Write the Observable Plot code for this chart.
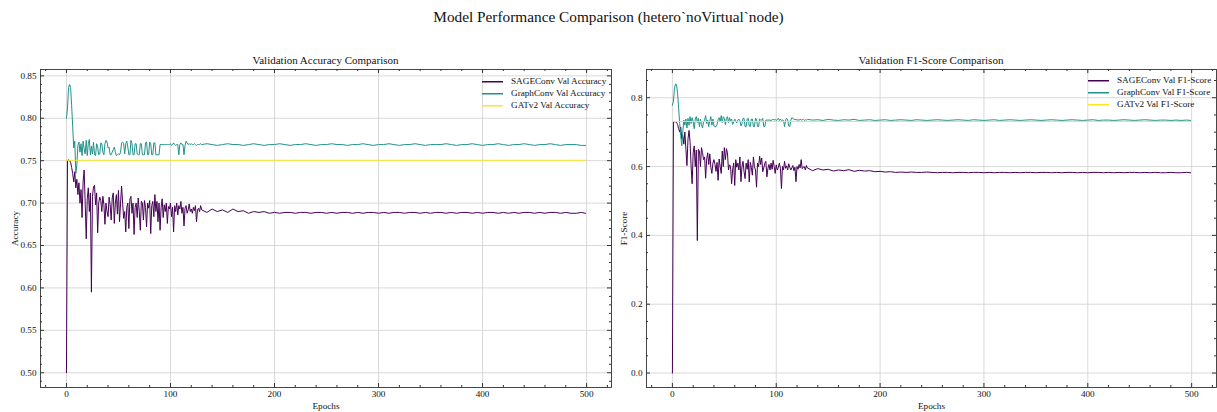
<!DOCTYPE html>
<html>
<head>
<meta charset="utf-8">
<script src="https://cdn.jsdelivr.net/npm/d3@7"></script>
<script src="https://cdn.jsdelivr.net/npm/@observablehq/plot@0.6"></script>
<style>
  html, body { margin: 0; padding: 0; background: #fff; }
  #wrap { position: relative; width: 1217px; height: 412px; overflow: hidden; font-family: "Liberation Serif", "Times New Roman", Times, serif; color: #111; }
  .abs { position: absolute; white-space: nowrap; }
  .title { font-size: 15.3px; left: 0; width: 1217px; text-align: center; top: 8px; }
  .sub { font-size: 11px; text-align: center; top: 54px; }
  .leg { font-size: 9.2px; line-height: 12px; }
  .leg .row { display: flex; align-items: flex-start; height: 12px; }
  .leg .sw { display: block; width: 21px; height: 1px; margin-top: 6px; margin-right: 8px; box-shadow: 0 0.5px 0 0 currentColor; }
  svg { position: absolute; overflow: visible; }
</style>
</head>
<body>
<div id="wrap"></div>
<script>
// ---------------- DATA ----------------
const seriesNames = ["SAGEConv", "GraphConv", "GATv2"];
const seriesColors = ["#440154", "#21918c", "#fde725"];

// epochs 0..129 (every epoch), then 130..495 every 5, then 499
const epochsEarly = d3.range(0, 130);
const epochsLate = [...d3.range(130, 500, 5), 499];

// Validation accuracy
const sageAccEarly = [
  0.500,0.750,0.751,0.750,0.748,0.742,0.735,0.725,0.737,0.718,
  0.728,0.710,0.724,0.700,0.716,0.683,0.725,0.739,0.700,0.658,
  0.705,0.718,0.690,0.712,0.595,0.708,0.719,0.721,0.698,0.712,
  0.665,0.700,0.707,0.703,0.690,0.708,0.698,0.675,0.700,0.690,
  0.684,0.707,0.698,0.680,0.706,0.712,0.676,0.700,0.710,0.687,
  0.715,0.678,0.700,0.720,0.700,0.682,0.690,0.666,0.695,0.700,
  0.670,0.705,0.708,0.688,0.700,0.663,0.695,0.700,0.683,0.706,
  0.690,0.668,0.702,0.700,0.680,0.703,0.695,0.672,0.700,0.694,
  0.703,0.664,0.697,0.702,0.684,0.710,0.690,0.702,0.678,0.700,
  0.668,0.695,0.705,0.683,0.698,0.690,0.700,0.676,0.696,0.693,
  0.700,0.684,0.695,0.666,0.697,0.690,0.700,0.686,0.697,0.693,
  0.702,0.688,0.695,0.673,0.694,0.697,0.688,0.692,0.699,0.690,
  0.693,0.688,0.695,0.691,0.697,0.678,0.692,0.694,0.690,0.697
];
const sageAccLate = [
  0.692,0.689,0.693,0.690,0.692,0.689,0.693,0.690,0.691,0.688,0.690,0.689,0.690,0.688,0.689,
  0.688,0.689,0.689,0.688,0.689,0.689,0.688,0.689,0.689,0.688,0.689,0.688,0.689,0.689,0.688,
  0.689,0.688,0.689,0.689,0.688,0.689,0.688,0.689,0.689,0.688,0.689,0.689,0.688,0.689,0.688,
  0.689,0.689,0.688,0.689,0.688,0.689,0.689,0.688,0.689,0.688,0.689,0.689,0.688,0.689,0.688,
  0.689,0.688,0.689,0.689,0.688,0.689,0.688,0.689,0.689,0.688,0.689,0.688,0.688,0.689,0.688
];
const graphAccEarly = [
  0.800,0.812,0.836,0.840,0.836,0.815,0.790,0.765,0.773,0.735,
  0.745,0.768,0.772,0.760,0.770,0.756,0.773,0.764,0.758,0.774,
  0.756,0.770,0.775,0.757,0.767,0.758,0.772,0.757,0.756,0.770,
  0.766,0.757,0.758,0.771,0.770,0.760,0.757,0.770,0.774,0.772,
  0.765,0.766,0.757,0.757,0.760,0.763,0.766,0.760,0.756,0.757,
  0.758,0.757,0.760,0.771,0.772,0.770,0.758,0.770,0.773,0.766,
  0.757,0.757,0.774,0.770,0.757,0.757,0.770,0.770,0.758,0.757,
  0.757,0.770,0.770,0.757,0.757,0.757,0.771,0.772,0.757,0.757,
  0.772,0.770,0.757,0.757,0.771,0.771,0.757,0.757,0.757,0.757,
  0.769,0.769,0.769,0.769,0.769,0.769,0.769,0.769,0.769,0.769,
  0.770,0.768,0.769,0.771,0.769,0.768,0.769,0.769,0.757,0.769,
  0.771,0.769,0.769,0.757,0.768,0.773,0.771,0.769,0.770,0.769,
  0.770,0.769,0.769,0.770,0.769,0.768,0.769,0.769,0.769,0.770
];
const graphAccLate = [
  0.769,0.770,0.769,0.768,0.769,0.770,0.769,0.769,0.768,0.769,0.770,0.769,0.768,0.769,0.769,
  0.770,0.769,0.768,0.769,0.769,0.770,0.769,0.768,0.769,0.769,0.770,0.769,0.769,0.768,0.769,
  0.769,0.770,0.769,0.768,0.769,0.769,0.770,0.769,0.768,0.769,0.769,0.770,0.769,0.768,0.769,
  0.769,0.769,0.770,0.769,0.768,0.769,0.769,0.770,0.769,0.768,0.769,0.769,0.770,0.769,0.768,
  0.769,0.769,0.770,0.769,0.768,0.769,0.769,0.770,0.769,0.768,0.769,0.769,0.769,0.768,0.768
];
const gatAccEpochs = [0, 499];
const gatAcc = [0.7505, 0.7505];

// Validation F1-score
const sageF1Early = [
  0.000,0.730,0.730,0.730,0.728,0.722,0.710,0.700,0.715,0.680,
  0.690,0.665,0.700,0.650,0.603,0.680,0.705,0.672,0.600,0.550,
  0.640,0.660,0.600,0.648,0.385,0.650,0.645,0.600,0.655,0.640,
  0.620,0.628,0.566,0.622,0.640,0.606,0.637,0.598,0.580,0.610,
  0.620,0.606,0.586,0.612,0.560,0.622,0.600,0.580,0.645,0.600,
  0.655,0.620,0.652,0.640,0.590,0.605,0.600,0.550,0.590,0.610,
  0.545,0.620,0.598,0.610,0.590,0.628,0.556,0.600,0.615,0.585,
  0.565,0.610,0.592,0.620,0.555,0.612,0.598,0.575,0.628,0.600,
  0.590,0.540,0.610,0.600,0.630,0.606,0.625,0.585,0.596,0.610,
  0.615,0.570,0.595,0.606,0.590,0.610,0.592,0.618,0.600,0.580,
  0.605,0.590,0.598,0.610,0.595,0.536,0.600,0.590,0.615,0.595,
  0.602,0.590,0.608,0.598,0.590,0.596,0.603,0.588,0.598,0.556,
  0.600,0.592,0.606,0.596,0.620,0.594,0.598,0.600,0.590,0.603
];
const sageF1Late = [
  0.596,0.588,0.594,0.590,0.592,0.587,0.590,0.588,0.591,0.586,0.589,0.587,0.588,0.585,0.586,
  0.584,0.585,0.583,0.584,0.583,0.584,0.583,0.583,0.584,0.583,0.582,0.583,0.583,0.582,0.583,
  0.583,0.582,0.583,0.583,0.582,0.583,0.582,0.583,0.583,0.582,0.583,0.582,0.583,0.583,0.582,
  0.583,0.583,0.582,0.583,0.582,0.583,0.583,0.582,0.583,0.582,0.583,0.583,0.582,0.583,0.582,
  0.583,0.582,0.583,0.583,0.582,0.583,0.582,0.583,0.582,0.582,0.583,0.582,0.582,0.583,0.582
];
const graphF1Early = [
  0.778,0.790,0.828,0.840,0.838,0.812,0.770,0.725,0.690,0.660,
  0.700,0.735,0.720,0.738,0.712,0.740,0.720,0.745,0.725,0.742,
  0.730,0.710,0.738,0.745,0.728,0.740,0.716,0.738,0.722,0.712,
  0.730,0.735,0.748,0.725,0.735,0.716,0.733,0.745,0.720,0.738,
  0.718,0.716,0.716,0.722,0.737,0.742,0.730,0.748,0.728,0.745,
  0.740,0.722,0.740,0.745,0.728,0.742,0.733,0.738,0.722,0.730,
  0.738,0.733,0.727,0.735,0.738,0.733,0.718,0.725,0.740,0.740,
  0.716,0.716,0.738,0.740,0.718,0.716,0.738,0.738,0.716,0.716,
  0.740,0.738,0.716,0.716,0.738,0.735,0.735,0.740,0.716,0.716,
  0.735,0.735,0.735,0.735,0.735,0.734,0.735,0.738,0.735,0.737,
  0.734,0.736,0.740,0.734,0.738,0.734,0.735,0.734,0.716,0.735,
  0.740,0.736,0.718,0.716,0.735,0.742,0.740,0.738,0.736,0.737,
  0.735,0.736,0.734,0.738,0.735,0.736,0.737,0.734,0.736,0.735
];
const graphF1Late = [
  0.737,0.735,0.736,0.734,0.737,0.735,0.734,0.736,0.735,0.737,0.734,0.735,0.736,0.734,0.735,
  0.736,0.734,0.735,0.736,0.735,0.734,0.736,0.735,0.734,0.735,0.736,0.735,0.734,0.735,0.736,
  0.735,0.734,0.736,0.735,0.734,0.735,0.736,0.734,0.735,0.736,0.735,0.734,0.735,0.736,0.735,
  0.734,0.735,0.736,0.735,0.734,0.735,0.736,0.735,0.734,0.735,0.736,0.734,0.735,0.735,0.734,
  0.735,0.736,0.735,0.734,0.735,0.736,0.735,0.734,0.735,0.735,0.734,0.735,0.734,0.735,0.734
];
const gatF1Epochs = [0, 499];
const gatF1 = [0.731, 0.731];

// Tick labels
const xTicks = [0, 100, 200, 300, 400, 500];
const accTicks = [0.50, 0.55, 0.60, 0.65, 0.70, 0.75, 0.80, 0.85];
const f1Ticks = [0.0, 0.2, 0.4, 0.6, 0.8];

// ---------------- BUILD ----------------
function rows(epochs, values, series) {
  return values.map((v, i) => ({epoch: epochs[i], value: v, series}));
}
const epochsAll = [...epochsEarly, ...epochsLate];
const accData = [
  ...rows(epochsAll, [...sageAccEarly, ...sageAccLate], "SAGEConv"),
  ...rows(epochsAll, [...graphAccEarly, ...graphAccLate], "GraphConv"),
  ...rows(gatAccEpochs, gatAcc, "GATv2")
];
const f1Data = [
  ...rows(epochsAll, [...sageF1Early, ...sageF1Late], "SAGEConv"),
  ...rows(epochsAll, [...graphF1Early, ...graphF1Late], "GraphConv"),
  ...rows(gatF1Epochs, gatF1, "GATv2")
];

const wrap = document.getElementById("wrap");
const FONT = "'Liberation Serif', 'Times New Roman', Times, serif";

function panel({data, yDomain, yTicks, yMinor, fmt, yLabel, left, mL, labelOffset}) {
  const W = 612, H = 372, mR = 1, mT = 29, mB = 25;
  const innerW = W - mL - mR, innerH = H - mT - mB;
  const xMinor = d3.range(-20, 521, 20).filter(v => v % 100 !== 0);
  const axisColor = "#333";
  const chart = Plot.plot({
    width: W, height: H,
    marginLeft: mL, marginRight: mR, marginTop: mT, marginBottom: mB,
    style: {fontFamily: FONT, fontSize: "9.2px", background: "transparent", color: "#111"},
    x: {domain: [-24.95, 523.95]},
    y: {domain: yDomain},
    color: {domain: seriesNames, range: seriesColors},
    marks: [
      Plot.gridX(xTicks, {stroke: "#cfcfcf", strokeOpacity: 1, strokeWidth: 0.8}),
      Plot.gridY(yTicks, {stroke: "#cfcfcf", strokeOpacity: 1, strokeWidth: 0.8}),
      Plot.line(data, {x: "epoch", y: "value", z: "series", stroke: "series", strokeWidth: 1}),
      // inward ticks (major)
      Plot.tickX(xTicks, {x: d => d, stroke: axisColor, insetTop: innerH - 4}),
      Plot.tickX(xTicks, {x: d => d, stroke: axisColor, insetBottom: innerH - 4}),
      Plot.tickY(yTicks, {y: d => d, stroke: axisColor, insetRight: innerW - 4}),
      Plot.tickY(yTicks, {y: d => d, stroke: axisColor, insetLeft: innerW - 4}),
      // inward ticks (minor)
      Plot.tickX(xMinor, {x: d => d, stroke: axisColor, insetTop: innerH - 2}),
      Plot.tickX(xMinor, {x: d => d, stroke: axisColor, insetBottom: innerH - 2}),
      Plot.tickY(yMinor, {y: d => d, stroke: axisColor, insetRight: innerW - 2}),
      Plot.tickY(yMinor, {y: d => d, stroke: axisColor, insetLeft: innerW - 2}),
      Plot.axisX(xTicks, {tickSize: 0, tickPadding: 3, label: "Epochs", labelAnchor: "center", labelArrow: "none", labelOffset: 21}),
      Plot.axisY(yTicks, {tickSize: 0, tickPadding: 4, tickFormat: fmt, label: yLabel, labelAnchor: "center", labelArrow: "none", labelOffset}),
      Plot.frame({stroke: axisColor, strokeWidth: 0.9})
    ]
  });
  chart.style.left = left + "px";
  chart.style.top = "40px";
  wrap.appendChild(chart);
}

panel({
  data: accData, yDomain: [0.4826, 0.8575], yTicks: accTicks,
  yMinor: d3.range(49, 86).map(v => v / 100).filter(v => Math.round(v * 100) % 5 !== 0),
  fmt: d3.format(".2f"), yLabel: "Accuracy", left: 0, mL: 40, labelOffset: 29
});
panel({
  data: f1Data, yDomain: [-0.042, 0.882], yTicks: f1Ticks,
  yMinor: [0.05, 0.1, 0.15, 0.25, 0.3, 0.35, 0.45, 0.5, 0.55, 0.65, 0.7, 0.75, 0.85],
  fmt: d3.format(".1f"), yLabel: "F1-Score", left: 605, mL: 41, labelOffset: 26
});

// Titles
function addText(cls, text, style) {
  const d = document.createElement("div");
  d.className = "abs " + cls;
  d.textContent = text;
  Object.assign(d.style, style || {});
  wrap.appendChild(d);
  return d;
}
addText("title", "Model Performance Comparison (hetero`noVirtual`node)");
addText("sub", "Validation Accuracy Comparison", {left: "40px", width: "571px"});
addText("sub", "Validation F1-Score Comparison", {left: "646px", width: "570px"});

// Legends
function legend(labels, left, top) {
  const box = document.createElement("div");
  box.className = "abs leg";
  box.style.left = left + "px";
  box.style.top = top + "px";
  labels.forEach((lab, i) => {
    const r = document.createElement("div");
    r.className = "row";
    const sw = document.createElement("span");
    sw.className = "sw";
    sw.style.background = seriesColors[i];
    sw.style.color = seriesColors[i];
    const t = document.createElement("span");
    t.textContent = lab;
    r.appendChild(sw); r.appendChild(t);
    box.appendChild(r);
  });
  wrap.appendChild(box);
}
legend(["SAGEConv Val Accuracy", "GraphConv Val Accuracy", "GATv2 Val Accuracy"], 482, 75);
legend(["SAGEConv Val F1-Score", "GraphConv Val F1-Score", "GATv2 Val F1-Score"], 1088, 74);
</script>
</body>
</html>
